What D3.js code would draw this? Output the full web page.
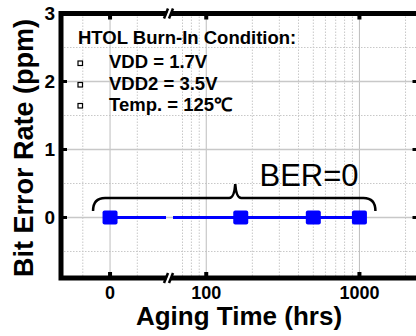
<!DOCTYPE html>
<html>
<head>
<meta charset="utf-8">
<script src="https://cdn.jsdelivr.net/npm/d3@7"></script>
<style>
  body { margin: 0; background: #fff; }
  text { font-family: "Liberation Sans", Arial, sans-serif; }
</style>
</head>
<body>
<div id="chart"></div>
<script>
// data
var hours = [0, 168, 500, 1000];
var ber = [0, 0, 0, 0];
var yTicks = [0, 1, 2, 3];
var yMinor = [-0.5, 0.5, 1.5, 2.5];
var xTicks = [0, 100, 1000];
var xMinorLin = [-10, 10];
var xMinorLog = [70, 80, 90, 200, 300, 400, 500, 600, 700, 800, 900, 2000];
var legendTitle = "HTOL Burn-In Condition:";
var legendItems = ["VDD = 1.7V", "VDD2 = 3.5V", "Temp. = 125\u2103"];

var W = 416, H = 336;
// plot box edges (window.top is reserved, so keep them in an object)
var box = { left: 61, right: 418.5, top: 13.5, bottom: 278 };
var brk = 170;

var svg = d3.select("#chart").append("svg")
  .attr("width", W)
  .attr("height", H);

// broken x axis: linear piece around 0, log piece from ~60 hrs
var xLin = d3.scaleLinear().domain([-18, 22]).range([box.left, brk]);
var xLog = d3.scaleLog().domain([58, 2430]).range([brk, box.right]);
function x(v) { return v < 40 ? xLin(v) : xLog(v); }

var y = d3.scaleLinear().domain([-0.89, 3]).range([box.bottom, box.top]);

// minor grid (dotted)
var minorX = xMinorLin.concat(xMinorLog);
svg.selectAll(".gxm").data(minorX).enter().append("line")
  .attr("x1", function (d) { return x(d); })
  .attr("x2", function (d) { return x(d); })
  .attr("y1", box.top).attr("y2", box.bottom)
  .attr("stroke", "#c8c8c8").attr("stroke-width", 1)
  .attr("stroke-dasharray", "1.5,1.5");
svg.selectAll(".gym").data(yMinor).enter().append("line")
  .attr("x1", box.left).attr("x2", box.right)
  .attr("y1", function (d) { return y(d); })
  .attr("y2", function (d) { return y(d); })
  .attr("stroke", "#c8c8c8").attr("stroke-width", 1)
  .attr("stroke-dasharray", "1.5,1.5");

// major grid
svg.selectAll(".gx").data(xTicks).enter().append("line")
  .attr("x1", function (d) { return x(d); })
  .attr("x2", function (d) { return x(d); })
  .attr("y1", box.top).attr("y2", box.bottom)
  .attr("stroke", "#bdbdbd").attr("stroke-width", 1);
svg.selectAll(".gy").data(yTicks.slice(0, 3)).enter().append("line")
  .attr("x1", box.left).attr("x2", box.right)
  .attr("y1", function (d) { return y(d); })
  .attr("y2", function (d) { return y(d); })
  .attr("stroke", "#c8c8c8").attr("stroke-width", 1.5);

// frame
svg.append("rect")
  .attr("x", box.left).attr("y", box.top)
  .attr("width", box.right - box.left).attr("height", box.bottom - box.top)
  .attr("fill", "none").attr("stroke", "#000").attr("stroke-width", 5);

// inward ticks
yTicks.forEach(function (d) {
  svg.append("rect").attr("x", box.left + 2).attr("y", y(d) - 1.5)
    .attr("width", 4).attr("height", 3).attr("fill", "#000");
  svg.append("rect").attr("x", box.right - 6).attr("y", y(d) - 1.5)
    .attr("width", 4).attr("height", 3).attr("fill", "#000");
});
xTicks.forEach(function (d) {
  svg.append("rect").attr("x", x(d) - 2).attr("y", box.top + 2)
    .attr("width", 4).attr("height", 4).attr("fill", "#000");
  svg.append("rect").attr("x", x(d) - 2).attr("y", box.bottom - 6)
    .attr("width", 4).attr("height", 4).attr("fill", "#000");
});

// axis break marks
[box.top, box.bottom].forEach(function (yy) {
  svg.append("path")
    .attr("d", "M" + (brk - 5) + "," + (yy + 5) + "L" + (brk - 1) + "," + (yy - 5) +
      "L" + (brk + 3) + "," + (yy - 5) + "L" + (brk - 1) + "," + (yy + 5) + "Z")
    .attr("fill", "#fff");
  [-3, 2].forEach(function (o) {
    svg.append("line")
      .attr("x1", brk + o - 3).attr("y1", yy + 5)
      .attr("x2", brk + o + 1).attr("y2", yy - 5)
      .attr("stroke", "#000").attr("stroke-width", 2.5);
  });
});

// y tick labels
svg.selectAll(".yl").data(yTicks).enter().append("text")
  .attr("x", 55)
  .attr("y", function (d) { return y(d); })
  .attr("dy", "0.36em")
  .attr("text-anchor", "end")
  .style("font-size", "19px").style("font-weight", "bold")
  .text(function (d) { return d; });

// x tick labels
svg.selectAll(".xl").data(xTicks).enter().append("text")
  .attr("x", function (d) { return x(d); })
  .attr("y", 299)
  .attr("text-anchor", "middle")
  .style("font-size", "18px").style("font-weight", "bold")
  .text(function (d) { return d; });

// axis titles
svg.append("text")
  .attr("x", 239).attr("y", 325)
  .attr("text-anchor", "middle")
  .style("font-size", "26px").style("font-weight", "bold")
  .text("Aging Time (hrs)");
svg.append("text")
  .attr("transform", "translate(33,148) rotate(-90)")
  .attr("text-anchor", "middle")
  .style("font-size", "27px").style("font-weight", "bold")
  .text("Bit Error Rate (ppm)");

// legend block
svg.append("text")
  .attr("x", 78).attr("y", 44)
  .style("font-size", "18.5px").style("font-weight", "bold")
  .text(legendTitle);
var legY = [68, 89.5, 110.5];
legendItems.forEach(function (t, i) {
  svg.append("rect")
    .attr("x", 78).attr("y", legY[i] - 7)
    .attr("width", 4.5).attr("height", 4.5)
    .attr("fill", "#fff").attr("stroke", "#000").attr("stroke-width", 1.2);
  svg.append("text")
    .attr("x", 109).attr("y", legY[i])
    .style("font-size", "18.5px").style("font-weight", "bold")
    .text(t);
});

// data line, interrupted at the axis break
var p = d3.path();
hours.forEach(function (h, i) {
  var px = x(h), py = y(ber[i]);
  if (i === 0) { p.moveTo(px, py); return; }
  var prev = x(hours[i - 1]);
  if (prev < brk && px > brk) {
    p.lineTo(brk - 4, py);
    p.moveTo(brk + 3, py);
  }
  p.lineTo(px, py);
});
svg.append("path")
  .attr("d", p.toString())
  .attr("fill", "none").attr("stroke", "#0000ff").attr("stroke-width", 3);

svg.selectAll(".pt").data(hours).enter().append("rect")
  .attr("x", function (d) { return x(d) - 7.5; })
  .attr("y", function (d, i) { return y(ber[i]) - 7; })
  .attr("width", 15).attr("height", 14)
  .attr("rx", 2)
  .attr("fill", "#0000ff");

// brace over the points
var bx0 = x(hours[0]) - 17, bx1 = x(hours[hours.length - 1]) + 16;
var bm = (bx0 + bx1) / 2 + 1, by = 198, r = 8;
var bp = d3.path();
bp.moveTo(bx0, by + 13);
bp.quadraticCurveTo(bx0, by, bx0 + r + 4, by);
bp.lineTo(bm - 6, by);
bp.quadraticCurveTo(bm - 1, by, bm, by - 14);
bp.quadraticCurveTo(bm + 1, by, bm + 6, by);
bp.lineTo(bx1 - r - 4, by);
bp.quadraticCurveTo(bx1, by, bx1, by + 13);
svg.append("path")
  .attr("d", bp.toString())
  .attr("fill", "none").attr("stroke", "#000").attr("stroke-width", 2.5);

svg.append("text")
  .attr("x", 309).attr("y", 186)
  .attr("text-anchor", "middle")
  .style("font-size", "31px")
  .text("BER=0");
</script>
</body>
</html>
